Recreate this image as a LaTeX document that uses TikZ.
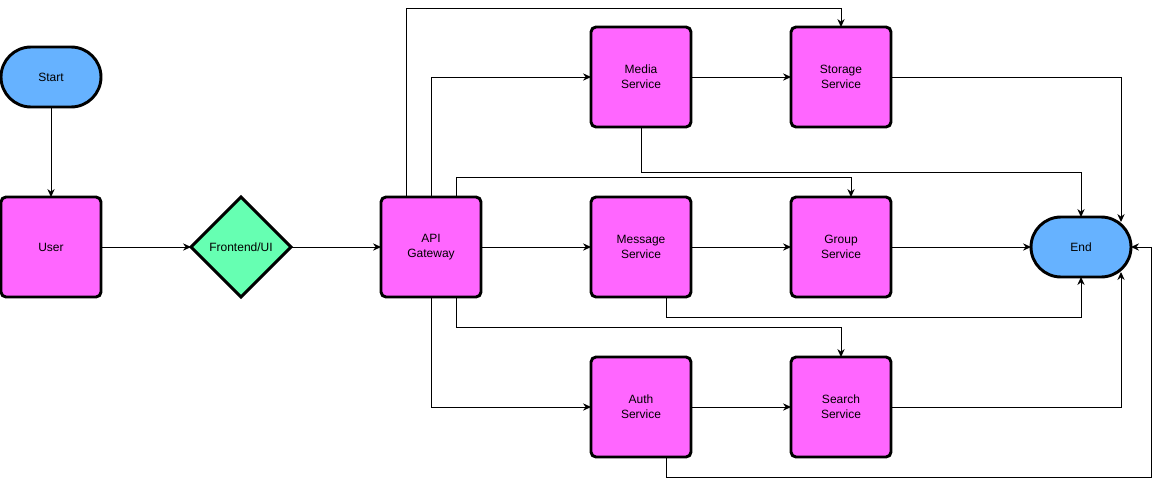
\documentclass[tikz,border=0pt]{standalone}
\usepackage{fontspec}
\setmainfont{Liberation Sans}
\usetikzlibrary{shapes.geometric,arrows.meta,calc}
\definecolor{boxpink}{HTML}{FF66FF}
\definecolor{termblue}{HTML}{66B2FF}
\definecolor{decgreen}{HTML}{66FFB2}
\tikzset{
  base/.style={draw=black,line width=2.2pt,outer sep=0pt,inner sep=0pt,align=center,
    font=\fontsize{9}{11.25}\selectfont,text=black},
  svcbox/.style={base,fill=boxpink,rounded corners=3.75pt,minimum width=75pt,minimum height=75pt},
  term/.style={base,fill=termblue,rounded corners=22.5pt,minimum width=75pt,minimum height=45pt},
  decide/.style={base,fill=decgreen,diamond,minimum width=75pt,minimum height=75pt,aspect=1},
  conn/.style={draw=black,line width=0.75pt,-{Stealth[length=6pt,width=5.5pt,inset=2pt]}}
}
\begin{document}
\begin{tikzpicture}[x=0.75pt,y=-0.75pt]
\useasboundingbox (0,0) rectangle (1160,486);
\node[term] (start) at (51,77) {Start};
\node[svcbox] (user) at (51,247) {User};
\node[decide] (fe) at (241,247) {Frontend/UI};
\node[svcbox] (api) at (431,247) {API\\Gateway};
\node[svcbox] (media) at (641,77) {Media\\Service};
\node[svcbox] (storage) at (841,77) {Storage\\Service};
\node[svcbox] (msg) at (641,247) {Message\\Service};
\node[svcbox] (group) at (841,247) {Group\\Service};
\node[svcbox] (auth) at (641,407) {Auth\\Service};
\node[svcbox] (search) at (841,407) {Search\\Service};
\node[term] (end) at (1081,247) {End};
\coordinate (endTR) at ($(end.center)+(40,-25)$);
\coordinate (endBR) at ($(end.center)+(40,25)$);

\draw[conn] (start.south) -- (user.north);
\draw[conn] (user.east) -- (fe.west);
\draw[conn] (fe.east) -- (api.west);
\draw[conn] ($(api.north)+(-25,0)$) |- ($(storage.north)+(0,-19)$) -- (storage.north);
\draw[conn] (api.north) |- (media.west);
\draw[conn] ($(api.north)+(25,0)$) |- ($(group.north)+(10,-20)$) -- ($(group.north)+(10,0)$);
\draw[conn] (api.east) -- (msg.west);
\draw[conn] ($(api.south)+(25,0)$) |- ($(search.north)+(0,-30)$) -- (search.north);
\draw[conn] (api.south) |- (auth.west);
\draw[conn] (media.east) -- (storage.west);
\draw[conn] (media.south) |- ($(end.north)+(0,-45)$) -- (end.north);
\draw[conn] (storage.east) -| (endTR);
\draw[conn] (msg.east) -- (group.west);
\draw[conn] ($(msg.south)+(25,0)$) |- ($(end.south)+(0,40)$) -- (end.south);
\draw[conn] (group.east) -- (end.west);
\draw[conn] (auth.east) -- (search.west);
\draw[conn] ($(auth.south)+(25,0)$) |- ($(end.east)+(20,230)$) |- (end.east);
\draw[conn] (search.east) -| (endBR);
\end{tikzpicture}
\end{document}
